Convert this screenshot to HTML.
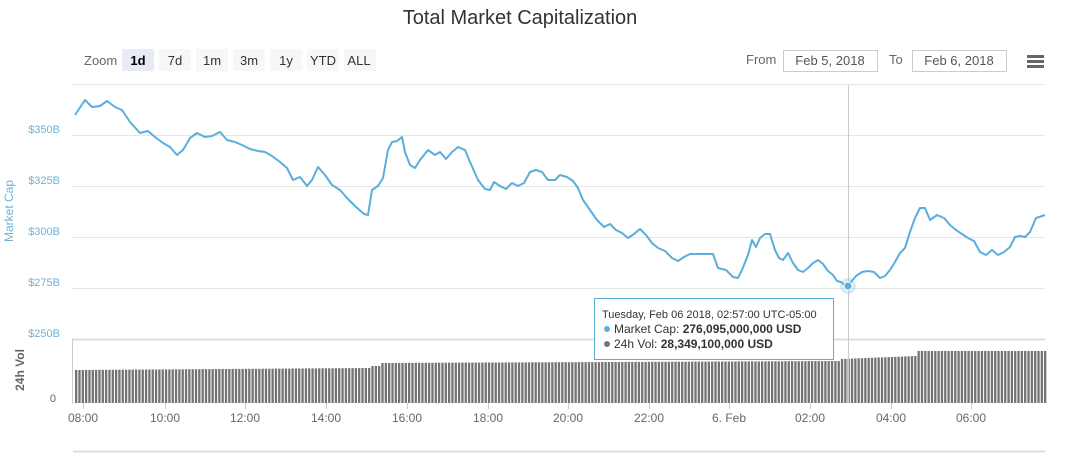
<!DOCTYPE html>
<html><head><meta charset="utf-8"><style>
body{margin:0;background:#fff;width:1073px;height:453px;overflow:hidden;font-family:"Liberation Sans",sans-serif}
</style></head><body>
<svg id="s" width="1073" height="453" xmlns="http://www.w3.org/2000/svg" font-family="Liberation Sans, sans-serif">
<text x="520" y="24" font-size="20" text-anchor="middle" fill="#333">Total Market Capitalization</text>
<text x="84" y="65" font-size="13" fill="#666">Zoom</text>
<rect x="122" y="49" width="32" height="22" fill="#e6ebf5"/><text x="138" y="65" font-size="13" font-weight="bold" text-anchor="middle" fill="#000">1d</text>
<rect x="159" y="49" width="32" height="22" fill="#f7f7f7"/><text x="175" y="65" font-size="13" text-anchor="middle" fill="#333">7d</text>
<rect x="196" y="49" width="32" height="22" fill="#f7f7f7"/><text x="212" y="65" font-size="13" text-anchor="middle" fill="#333">1m</text>
<rect x="233" y="49" width="32" height="22" fill="#f7f7f7"/><text x="249" y="65" font-size="13" text-anchor="middle" fill="#333">3m</text>
<rect x="270" y="49" width="32" height="22" fill="#f7f7f7"/><text x="286" y="65" font-size="13" text-anchor="middle" fill="#333">1y</text>
<rect x="307" y="49" width="32" height="22" fill="#f7f7f7"/><text x="323" y="65" font-size="13" text-anchor="middle" fill="#333">YTD</text>
<rect x="344" y="49" width="32" height="22" fill="#f7f7f7"/><text x="359" y="65" font-size="13" text-anchor="middle" fill="#333">ALL</text>
<text x="746" y="64" font-size="13" fill="#666">From</text>
<rect x="783.5" y="50.5" width="94" height="21" fill="#fff" stroke="#ccc"/><text x="830" y="65" font-size="13" text-anchor="middle" fill="#555">Feb 5, 2018</text>
<text x="889" y="64" font-size="13" fill="#666">To</text>
<rect x="912.5" y="50.5" width="94" height="21" fill="#fff" stroke="#ccc"/><text x="959" y="65" font-size="13" text-anchor="middle" fill="#555">Feb 6, 2018</text>
<rect x="1027" y="55" width="17" height="3" fill="#666"/><rect x="1027" y="60" width="17" height="3" fill="#666"/><rect x="1027" y="65" width="17" height="3" fill="#666"/>
<g stroke="#e6e6e6" stroke-width="1">
<line x1="72" x2="1045" y1="84.5" y2="84.5"/><line x1="72" x2="1045" y1="135.5" y2="135.5"/><line x1="72" x2="1045" y1="186.5" y2="186.5"/><line x1="72" x2="1045" y1="237.5" y2="237.5"/><line x1="72" x2="1045" y1="288.5" y2="288.5"/>
</g>
<line x1="72" x2="1045" y1="339.5" y2="339.5" stroke="#ddd" stroke-width="2"/>
<line x1="72.5" x2="72.5" y1="339" y2="404" stroke="#ccc"/>
<line x1="73" x2="1045" y1="451.5" y2="451.5" stroke="#ddd" stroke-width="2"/>
<g font-size="11" fill="#6fb1d9" text-anchor="end">
<text x="60" y="133">$350B</text><text x="60" y="184">$325B</text><text x="60" y="235">$300B</text><text x="60" y="286">$275B</text><text x="60" y="337">$250B</text>
</g>
<text x="56" y="402" font-size="11" fill="#666" text-anchor="end">0</text>
<text transform="translate(13,211) rotate(-90)" font-size="12" fill="#6fb1d9" text-anchor="middle">Market Cap</text>
<text transform="translate(24,370) rotate(-90)" font-size="12" font-weight="bold" fill="#666" text-anchor="middle">24h Vol</text>
<g id="bars" fill="#737373"></g>
<g font-size="12" fill="#666" text-anchor="middle" id="xl">
<text x="83" y="422">08:00</text><text x="165" y="422">10:00</text><text x="245" y="422">12:00</text><text x="326" y="422">14:00</text><text x="407" y="422">16:00</text><text x="488" y="422">18:00</text><text x="568" y="422">20:00</text><text x="649" y="422">22:00</text><text x="729" y="422">6. Feb</text><text x="810" y="422">02:00</text><text x="891" y="422">04:00</text><text x="971" y="422">06:00</text>
</g>
<line x1="848.5" x2="848.5" y1="85" y2="403" stroke="#ccc"/>
<polyline fill="none" stroke="#5aaedc" stroke-width="2" stroke-linejoin="round" points="75,115 85,100 92,107 100,106 107,101 115,107 122,110 130,122 140,133 148,131 155,137 163,143 170,147 177,155 183,150 190,138 197,133 205,137 212,136 220,132 227,140 235,142 242,145 250,149 258,151 265,152 272,156 280,162 287,168 293,180 300,177 307,186 312,180 318,167 325,175 332,185 340,190 348,199 356,207 364,214 368,215 372,190 378,186 383,178 388,150 392,142 397,141 402,137 405,152 410,165 415,168 420,160 428,150 435,155 440,152 446,159 452,152 458,147 465,150 470,162 478,180 485,189 490,190 494,182 500,186 506,189 512,183 518,186 524,183 530,172 536,170 542,172 548,180 555,180 560,175 567,177 573,181 578,188 583,200 590,210 597,220 604,227 610,224 616,230 622,233 628,238 634,234 640,229 646,235 652,243 658,248 665,251 672,258 678,261 684,257 690,254 713,254 718,268 726,270 733,277 738,278 742,270 748,255 752,240 756,247 760,238 765,234 770,234 775,250 779,258 783,260 788,253 793,263 798,270 803,272 808,268 813,263 818,260 823,264 828,271 833,275 837,281 841,282 846,286 850,283 856,276 862,272 868,271 874,272 880,278 885,276 890,270 895,262 900,253 905,248 910,232 915,218 920,208 925,208 930,220 937,215 944,218 950,225 956,230 962,234 968,238 974,241 980,252 986,255 992,250 998,255 1004,252 1010,247 1015,237 1020,236 1025,237 1030,232 1036,218 1042,216 1045,215"/>
<circle cx="848" cy="286" r="8" fill="#5aaedc" fill-opacity="0.25"/>
<circle cx="848" cy="286" r="4" fill="#5aaedc" stroke="#fff" stroke-width="1"/>
<rect x="594.5" y="298.5" width="239" height="61" fill="#fff" fill-opacity="0.95" stroke="#5aaedc"/>
<text x="602" y="318" font-size="11" fill="#333">Tuesday, Feb 06 2018, 02:57:00 UTC-05:00</text>
<circle cx="607" cy="329" r="3" fill="#5aaedc"/>
<text x="614" y="333" font-size="12" fill="#333">Market Cap: <tspan font-weight="bold">276,095,000,000 USD</tspan></text>
<circle cx="607" cy="344" r="3" fill="#737373"/>
<text x="614" y="348" font-size="12" fill="#333">24h Vol: <tspan font-weight="bold">28,349,100,000 USD</tspan></text>
</svg>
<script>
var g=document.getElementById('bars'),ns='http://www.w3.org/2000/svg',h='';
for(var x=75;x<1045;x+=3.33){var t;
if(x<370)t=370-(x-75)/295*2;else if(x<380)t=366;else if(x<840)t=363-(x-380)/460*2;else if(x<915)t=359-(x-840)/75*3;else t=351;
h+='<rect x="'+x.toFixed(2)+'" y="'+t.toFixed(1)+'" width="2.3" height="'+(403-t).toFixed(1)+'"/>';}
g.innerHTML=h;
var s='';[83,165,245,326,407,488,568,649,729,810,891,971].forEach(function(x){s+='<line x1="'+(x+.5)+'" x2="'+(x+.5)+'" y1="403" y2="409" stroke="#ccc"/>';});
document.getElementById('xl').insertAdjacentHTML('beforebegin',s);
</script>
</body></html>
